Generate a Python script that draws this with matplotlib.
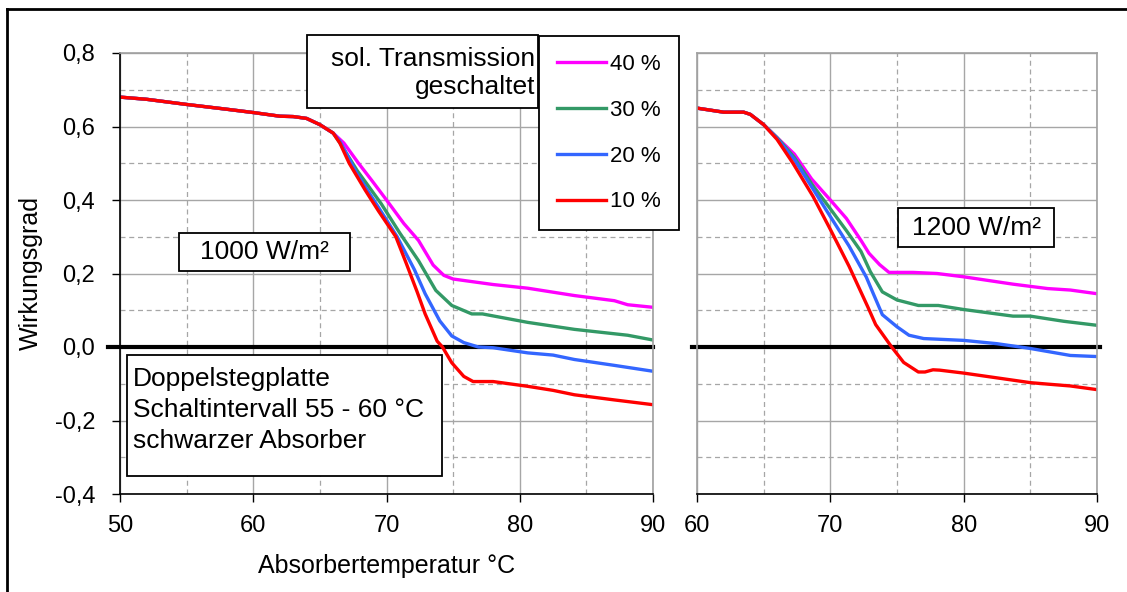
import matplotlib
matplotlib.use("Agg")
import matplotlib.pyplot as plt
from matplotlib.lines import Line2D
from matplotlib.patches import Rectangle
from matplotlib.ticker import MultipleLocator, FuncFormatter

plt.rcParams['font.family'] = ['Liberation Sans', 'DejaVu Sans']

# --- data: 1000 W/m2 (left panel) ---
x_1000_40 = [50, 52, 55, 58, 60, 62, 63, 64, 65, 66, 66.8, 67.9, 68.9, 70, 71.3, 72.4, 73.5, 74.3, 75, 78, 80.6, 84.1, 87.1, 88.1, 90]
y_1000_40 = [0.680, 0.674, 0.660, 0.647, 0.638, 0.628, 0.627, 0.622, 0.605, 0.582, 0.555, 0.500, 0.453, 0.400, 0.336, 0.290, 0.223, 0.195, 0.185, 0.170, 0.160, 0.140, 0.126, 0.115, 0.108]
x_1000_30 = [50, 52, 55, 58, 60, 62, 63, 64, 65, 66, 66.6, 67.8, 69.6, 71, 72.4, 73.2, 73.7, 74.9, 76.4, 77.2, 80.6, 84.1, 88.1, 90]
y_1000_30 = [0.680, 0.674, 0.660, 0.647, 0.638, 0.628, 0.627, 0.622, 0.605, 0.582, 0.550, 0.480, 0.390, 0.310, 0.235, 0.185, 0.154, 0.113, 0.090, 0.090, 0.067, 0.048, 0.032, 0.019]
x_1000_20 = [50, 52, 55, 58, 60, 62, 63, 64, 65, 66, 66.5, 67.8, 69.4, 70.8, 72.1, 72.9, 74, 74.9, 75.8, 76.9, 78, 80.6, 82.5, 84.1, 87.1, 90]
y_1000_20 = [0.680, 0.674, 0.660, 0.647, 0.638, 0.628, 0.627, 0.622, 0.605, 0.582, 0.560, 0.470, 0.380, 0.300, 0.210, 0.145, 0.071, 0.030, 0.012, 0.000, -0.002, -0.016, -0.022, -0.034, -0.050, -0.066]
x_1000_10 = [50, 52, 55, 58, 60, 62, 63, 64, 65, 66, 66.5, 67.2, 68.4, 69.4, 70.7, 71.5, 72.3, 72.9, 73.8, 74.2, 74.9, 75.8, 76.5, 78, 80.6, 82.5, 84.1, 87.1, 90]
y_1000_10 = [0.680, 0.674, 0.660, 0.647, 0.638, 0.628, 0.627, 0.622, 0.605, 0.582, 0.555, 0.500, 0.427, 0.370, 0.300, 0.226, 0.150, 0.090, 0.016, 0.000, -0.043, -0.080, -0.094, -0.094, -0.107, -0.118, -0.130, -0.144, -0.157]

# --- data: 1200 W/m2 (right panel) ---
x_1200_40 = [60, 62, 63.5, 64, 65, 66, 67.3, 68.6, 70, 71.2, 72.3, 72.9, 73.7, 74.4, 76.2, 78, 80, 83.7, 86.3, 88, 90]
y_1200_40 = [0.650, 0.639, 0.639, 0.633, 0.605, 0.570, 0.525, 0.457, 0.400, 0.350, 0.290, 0.255, 0.224, 0.203, 0.203, 0.200, 0.191, 0.171, 0.159, 0.155, 0.145]
x_1200_30 = [60, 62, 63.5, 64, 65, 66, 67.3, 68.6, 70, 71.2, 72.3, 73, 73.9, 75, 76.6, 78.1, 80, 83.7, 85, 87.5, 90]
y_1200_30 = [0.650, 0.639, 0.639, 0.633, 0.605, 0.570, 0.516, 0.444, 0.376, 0.317, 0.260, 0.205, 0.150, 0.128, 0.113, 0.113, 0.102, 0.084, 0.084, 0.070, 0.059]
x_1200_20 = [60, 62, 63.5, 64, 65, 66, 67.3, 68.7, 70, 71.4, 72.7, 73.2, 73.9, 75, 75.9, 77, 80, 82.5, 85, 88, 90]
y_1200_20 = [0.650, 0.639, 0.639, 0.633, 0.605, 0.568, 0.510, 0.430, 0.355, 0.275, 0.190, 0.147, 0.088, 0.055, 0.032, 0.023, 0.018, 0.009, -0.004, -0.023, -0.026]
x_1200_10 = [60, 62, 63.5, 64, 65, 66, 67.2, 68.7, 70, 71.4, 72.8, 73.4, 74.6, 75.5, 76.6, 77.1, 77.7, 78.2, 80, 85, 86.3, 88, 90]
y_1200_10 = [0.650, 0.639, 0.639, 0.633, 0.605, 0.565, 0.500, 0.410, 0.320, 0.220, 0.110, 0.061, 0.000, -0.042, -0.068, -0.068, -0.062, -0.063, -0.071, -0.097, -0.101, -0.106, -0.116]

labels = ['40 %', '30 %', '20 %', '10 %']
colors = ['#ff00ff', '#339966', '#3366ff', '#ff0000']

W, H = 1127, 592


def fx(px):
    return px / W


def fy(py):
    return 1 - py / H


fig = plt.figure(figsize=(W / 100, H / 100), dpi=100)

ax1 = fig.add_axes([fx(120), fy(494), fx(653) - fx(120), fy(53) - fy(494)])
ax2 = fig.add_axes([fx(697), fy(494), fx(1097) - fx(697), fy(53) - fy(494)])

comma = FuncFormatter(lambda v, p: f"{v:.1f}".replace('.', ','))

for ax, xmin in [(ax1, 50), (ax2, 60)]:
    ax.set_xlim(xmin, 90)
    ax.set_ylim(-0.4, 0.8)
    ax.xaxis.set_major_locator(MultipleLocator(10))
    ax.xaxis.set_minor_locator(MultipleLocator(5))
    ax.yaxis.set_major_locator(MultipleLocator(0.2))
    ax.yaxis.set_minor_locator(MultipleLocator(0.1))
    ax.grid(True, which='major', color='#a6a6a6', linewidth=1.0, linestyle='-')
    ax.grid(True, which='minor', color='#a6a6a6', linewidth=0.9, linestyle=(0, (4, 3)))
    ax.set_axisbelow(True)
    ax.tick_params(axis='x', which='major', direction='out', length=6, width=1,
                   labelsize=17, pad=9, color='black')
    ax.tick_params(which='minor', length=0)
    for s in ['top', 'right', 'left']:
        ax.spines[s].set_color('#a0a0a0')
        ax.spines[s].set_linewidth(1.2)
    ax.spines['bottom'].set_color('black')
    ax.spines['bottom'].set_linewidth(1.2)

ax1.spines['left'].set_color('black')
ax1.tick_params(axis='y', which='major', direction='out', length=6, width=1,
                labelsize=17, pad=12)
ax1.yaxis.set_major_formatter(comma)
ax2.tick_params(axis='y', which='major', length=0, labelleft=False)

lines = []
for x, y, c, lab in zip([x_1000_40, x_1000_30, x_1000_20, x_1000_10],
                        [y_1000_40, y_1000_30, y_1000_20, y_1000_10], colors, labels):
    ln, = ax1.plot(x, y, color=c, linewidth=2.4, label=lab, solid_joinstyle='round')
    lines.append(ln)
for x, y, c in zip([x_1200_40, x_1200_30, x_1200_20, x_1200_10],
                   [y_1200_40, y_1200_30, y_1200_20, y_1200_10], colors):
    ax2.plot(x, y, color=c, linewidth=2.4, solid_joinstyle='round')

ax1.axhline(0, xmin=-0.023, xmax=1.0, color='black', linewidth=3, clip_on=False, zorder=1.5)
ax2.axhline(0, xmin=-0.013, xmax=1.008, color='black', linewidth=3, clip_on=False, zorder=1.5)

ax1.set_xlabel('Absorbertemperatur °C', fontsize=18, labelpad=12)
ax1.set_ylabel('Wirkungsgrad', fontsize=18, labelpad=8)

# outer frame of the chart area
fig.add_artist(Line2D([fx(7), 1.0], [fy(9), fy(9)], color='black', linewidth=2, transform=fig.transFigure))
fig.add_artist(Line2D([fx(7), fx(7)], [fy(9), 0.0], color='black', linewidth=2, transform=fig.transFigure))


def box(x0, y0, x1, y1):
    fig.add_artist(Rectangle((fx(x0), fy(y1)), fx(x1) - fx(x0), fy(y0) - fy(y1),
                             transform=fig.transFigure, facecolor='white',
                             edgecolor='black', linewidth=1.3, zorder=5))


box(307, 35, 538, 108)
fig.text(fx(535), fy(73), 'sol. Transmission\ngeschaltet', ha='right', va='center',
         multialignment='right', fontsize=19, linespacing=1.25, zorder=6)

box(179, 233, 350, 271)
fig.text(fx(264), fy(252), '1000 W/m²', ha='center', va='center', fontsize=19, zorder=6)

box(898, 208, 1054, 247)
fig.text(fx(976), fy(228), '1200 W/m²', ha='center', va='center', fontsize=19, zorder=6)

box(127, 355, 442, 476)
fig.text(fx(133), fy(410), 'Doppelstegplatte\nSchaltintervall 55 - 60 °C\nschwarzer Absorber',
         ha='left', va='center', fontsize=19, linespacing=1.35, zorder=6)

leg = fig.legend(handles=lines, loc='upper left', bbox_to_anchor=(fx(539), fy(36)),
                 borderaxespad=0, fontsize=16, handlelength=2.2, handletextpad=0.2,
                 labelspacing=1.12, borderpad=0.8, fancybox=False, framealpha=1,
                 edgecolor='black')
leg.get_frame().set_linewidth(1.3)
leg.set_zorder(6)

fig.savefig('out.png', dpi=100)
